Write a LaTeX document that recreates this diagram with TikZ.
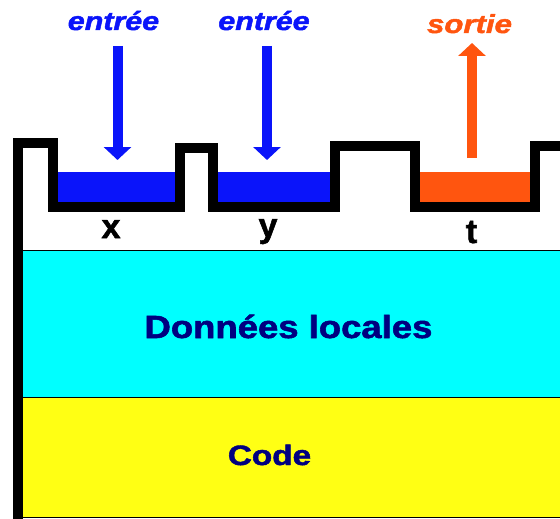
\documentclass[tikz,border=0pt]{standalone}
\usepackage{fontspec}
\setmainfont{Liberation Sans}
\newfontfamily\heavysans[FakeBold=1.6]{Liberation Sans}
\usetikzlibrary{arrows.meta}

\definecolor{inblue}{RGB}{10,20,250}
\definecolor{outorange}{RGB}{255,85,15}
\definecolor{datacyan}{RGB}{0,255,255}
\definecolor{codeyellow}{RGB}{255,255,20}
\definecolor{navytext}{RGB}{0,0,128}

\tikzset{
  flowarrow/.style={line width=10pt, -{Triangle[width=27pt,length=13pt]}},
  flowlabel/.style={anchor=base, font=\fontsize{26}{26}\selectfont\heavysans\bfseries\itshape},
  varlabel/.style={anchor=base, font=\fontsize{34}{34}\selectfont\heavysans\bfseries},
  zonelabel/.style={anchor=base, text=navytext}
}

\begin{document}
\begin{tikzpicture}[x=1pt, y=-1pt]
  \useasboundingbox (0,0) rectangle (560,519);
  \clip (0,0) rectangle (560,519);

  % memory zones
  \fill[datacyan] (20,250) rectangle (565,397);
  \draw[line width=0.8pt] (20,250) -- (565,250);
  \fill[codeyellow] (20,397) rectangle (565,517);
  \draw[line width=0.8pt] (20,397) -- (565,397);
  \draw[line width=0.8pt] (20,517) -- (565,517);

  % parameter slots
  \foreach \xa/\xb/\col in {58/175/inblue, 218/330/inblue, 420/530/outorange} {
    \fill[\col] (\xa,172) rectangle (\xb,202);
  }

  % outline
  \draw[line width=10pt, line join=miter]
    (17.5,525) -- (17.5,143) -- (53,143) -- (53,207) -- (180,207)
    -- (180,148) -- (213,148) -- (213,207) -- (335,207) -- (335,146)
    -- (415,146) -- (415,207) -- (535,207) -- (535,146) -- (570,146);

  % labels
  \node[flowlabel, text=inblue, xscale=1.17] (inx) at (113.5,30) {entrée};
  \node[flowlabel, text=inblue, xscale=1.17] (iny) at (264,30) {entrée};
  \node[flowlabel, text=outorange, xscale=1.2] (outt) at (469.5,33) {sortie};

  \node[varlabel] (varx) at (111,238) {x};
  \node[varlabel] (vary) at (268,237) {y};
  \node[varlabel] (vart) at (471.5,243) {t};

  \node[zonelabel, xscale=1.14, font=\fontsize{32}{32}\selectfont\heavysans\bfseries] (data) at (288.5,338) {Données locales};
  \node[zonelabel, xscale=1.19, font=\fontsize{28}{28}\selectfont\heavysans\bfseries] (code) at (269.5,465) {Code};

  % arrows
  \coordinate (xtop) at (117.5,46);
  \coordinate (xslot) at (117.5,160);
  \coordinate (ytop) at (267,46);
  \coordinate (yslot) at (267,160);
  \coordinate (tslot) at (472,158);
  \coordinate (ttop) at (472,43);
  \draw[flowarrow, inblue] (xtop) -- (xslot);
  \draw[flowarrow, inblue] (ytop) -- (yslot);
  \draw[flowarrow, outorange] (tslot) -- (ttop);
\end{tikzpicture}
\end{document}
